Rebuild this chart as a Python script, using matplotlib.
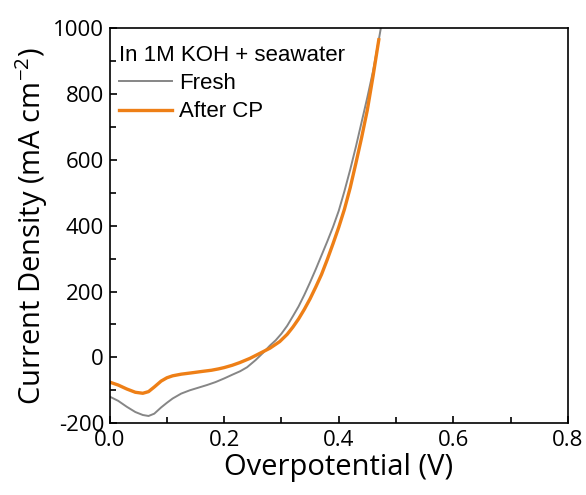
import matplotlib
matplotlib.use("Agg")
import matplotlib.pyplot as plt
from matplotlib.ticker import MultipleLocator

plt.rcParams["mathtext.fontset"] = "custom"
plt.rcParams["mathtext.rm"] = "Open Sans"
plt.rcParams["mathtext.it"] = "Open Sans:italic"

# Data (overpotential V, current density mA cm^-2)
fresh_x = [0.000, 0.015, 0.030, 0.045, 0.058, 0.068, 0.078, 0.090, 0.100, 0.110,
           0.125, 0.140, 0.155, 0.170, 0.185, 0.200, 0.215, 0.228, 0.240, 0.255,
           0.268, 0.280, 0.290, 0.300, 0.310, 0.320, 0.330, 0.340, 0.350, 0.360,
           0.370, 0.380, 0.390, 0.400, 0.410, 0.420, 0.430, 0.440, 0.450, 0.460,
           0.470, 0.474]
fresh_y = [-119, -132, -150, -166, -175, -178, -171, -152, -138, -125,
           -110, -100, -92, -84, -75, -64, -52, -42, -30, -8,
           14, 36, 52, 72, 96, 125, 155, 190, 228, 268,
           310, 352, 396, 445, 505, 570, 640, 715, 790, 870,
           965, 1005]

cp_x = [0.000, 0.015, 0.030, 0.045, 0.058, 0.068, 0.078, 0.090, 0.100, 0.110,
        0.125, 0.143, 0.160, 0.178, 0.190, 0.200, 0.214, 0.227, 0.245, 0.262,
        0.280, 0.297, 0.310, 0.320, 0.330, 0.340, 0.350, 0.360, 0.370, 0.380,
        0.390, 0.400, 0.410, 0.420, 0.430, 0.440, 0.450, 0.460, 0.470]
cp_y = [-75, -84, -96, -106, -109, -104, -90, -72, -62, -56,
        -51, -47, -43, -39, -35, -31, -24, -16, -3, 12,
        28, 48, 70, 92, 117, 146, 178, 214, 252, 297,
        345, 395, 450, 515, 590, 668, 752, 855, 965]

labels = ["Fresh", "After CP"]
colors = ["#868686", "#EE7F16"]

fig = plt.figure(figsize=(5.86, 4.95), dpi=100)
ax = fig.add_axes([0.187, 0.145, 0.782, 0.798])

ax.plot(fresh_x, fresh_y, color=colors[0], lw=1.4, label=labels[0])
ax.plot(cp_x, cp_y, color=colors[1], lw=2.4, label=labels[1])

ax.set_xlim(0, 0.8)
ax.set_ylim(-200, 1000)
ax.xaxis.set_minor_locator(MultipleLocator(0.1))
ax.yaxis.set_minor_locator(MultipleLocator(100))
ax.tick_params(which="both", direction="in", top=False, right=False, width=1.2)
ax.tick_params(which="major", length=5, pad=4)
ax.tick_params(which="minor", length=4)
ax.set_xticks([0.0, 0.2, 0.4, 0.6, 0.8])
ax.set_xticklabels(["0.0", "0.2", "0.4", "0.6", "0.8"], family="Open Sans", fontsize=16)
ax.set_yticks([-200, 0, 200, 400, 600, 800, 1000])
ax.set_yticklabels(["-200", "0", "200", "400", "600", "800", "1000"], family="Open Sans", fontsize=16)
ax.tick_params(axis="x", pad=5)
for s in ax.spines.values():
    s.set_linewidth(1.2)

ax.set_xlabel("Overpotential (V)", family="Open Sans", fontsize=21, labelpad=1)
ax.set_ylabel(r"Current Density (mA cm$^{\mathrm{-2}}$)", family="Open Sans", fontsize=21, labelpad=2)

leg = ax.legend(loc="upper left", bbox_to_anchor=(-0.002, 0.982),
                title="In 1M KOH + seawater", frameon=False,
                prop={"family": "Liberation Sans", "size": 16},
                title_fontproperties={"family": "Liberation Sans", "size": 16},
                handlelength=2.4, handletextpad=0.3, labelspacing=0.32,
                borderaxespad=0.25, borderpad=0.2)
leg._legend_box.align = "left"
leg._legend_box.sep = 5

fig.savefig("out.png", dpi=100)
